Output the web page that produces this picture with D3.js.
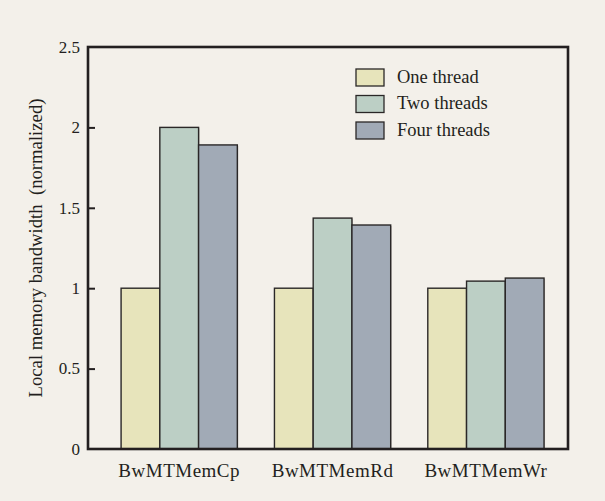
<!DOCTYPE html>
<html>
<head>
<meta charset="utf-8">
<script src="https://cdn.jsdelivr.net/npm/d3@7"></script>
<style>
  html, body { margin: 0; padding: 0; background: #f3f0ea; }
  svg { display: block; }
  text { font-family: "Liberation Serif", "Times New Roman", serif; fill: #231f20; }
</style>
</head>
<body>
<svg id="chart" width="605" height="501"></svg>
<script>
// Benchmarks along the x axis
const categories = ["BwMTMemCp", "BwMTMemRd", "BwMTMemWr"];
// Thread-count series
const seriesNames = ["One thread", "Two threads", "Four threads"];
// Normalized local memory bandwidth per benchmark
const oneThread = [1.0, 1.0, 1.0];
const twoThreads = [2.0, 1.436, 1.044];
const fourThreads = [1.891, 1.393, 1.063];
// Y axis ticks
const yTicks = [0, 0.5, 1, 1.5, 2, 2.5];
const yTickLabels = ["0", "0.5", "1", "1.5", "2", "2.5"];

const seriesValues = [oneThread, twoThreads, fourThreads];
const colors = ["#e7e4bb", "#bccfc5", "#a1aab6"];

const svg = d3.select("#chart");
const margin = { left: 88, top: 47, right: 37, bottom: 52 };
const W = 605, H = 501;
const x0 = margin.left, x1 = W - margin.right;
const yTop = margin.top, yBot = H - margin.bottom;

const x = d3.scaleBand()
  .domain(categories)
  .range([x0, x1])
  .paddingInner(0.242)
  .paddingOuter(0.186)
  .align(0.58);

const xs = d3.scaleBand()
  .domain(seriesNames)
  .range([0, x.bandwidth()])
  .padding(0);

const y = d3.scaleLinear().domain([0, 2.5]).range([yBot, yTop]);

// Bars
const rows = categories.map((c, i) => ({
  cat: c,
  vals: seriesNames.map((s, j) => ({ s, j, v: seriesValues[j][i] }))
}));

const groups = svg.append("g").selectAll("g")
  .data(rows).join("g")
  .attr("transform", d => `translate(${x(d.cat)},0)`);

// soft shadow behind each bar
groups.selectAll("rect.shadow")
  .data(d => d.vals).join("rect")
  .attr("class", "shadow")
  .attr("x", d => xs(d.s) + 1)
  .attr("y", d => y(d.v) + 1)
  .attr("width", xs.bandwidth())
  .attr("height", d => yBot - y(d.v))
  .attr("fill", "#8d8a88")
  .attr("opacity", 0.45);

groups.selectAll("rect.bar")
  .data(d => d.vals).join("rect")
  .attr("class", "bar")
  .attr("x", d => xs(d.s))
  .attr("y", d => y(d.v))
  .attr("width", xs.bandwidth())
  .attr("height", d => yBot - y(d.v))
  .attr("fill", d => colors[d.j])
  .attr("stroke", "#2a2727")
  .attr("stroke-width", 1.4);

// Frame around plot
svg.append("rect")
  .attr("x", x0).attr("y", yTop)
  .attr("width", x1 - x0).attr("height", yBot - yTop)
  .attr("fill", "none")
  .attr("stroke", "#231f20")
  .attr("stroke-width", 2.6);

// Left axis with inward ticks
const yAxis = d3.axisRight(y)
  .tickValues(yTicks)
  .tickFormat(() => "")
  .tickSize(7)
  .tickSizeOuter(0);
const ya = svg.append("g").attr("transform", `translate(${x0},0)`).call(yAxis);
ya.select(".domain").remove();
ya.selectAll("line").attr("stroke", "#231f20").attr("stroke-width", 2);
ya.selectAll(".tick").filter(d => d === 0 || d === 2.5).select("line").remove();

svg.append("g").selectAll("text")
  .data(yTicks).join("text")
  .attr("x", x0 - 8)
  .attr("y", d => y(d))
  .attr("dy", "0.34em")
  .attr("text-anchor", "end")
  .attr("font-size", 17)
  .text((d, i) => yTickLabels[i]);

// X labels
svg.append("g").selectAll("text")
  .data(categories).join("text")
  .attr("x", d => x(d) + x.bandwidth() / 2)
  .attr("y", yBot + 28)
  .attr("text-anchor", "middle")
  .attr("font-size", 19)
  .attr("letter-spacing", 0.5)
  .text(d => d);

// Y axis title
svg.append("text")
  .attr("transform", `translate(42,${(yTop + yBot) / 2}) rotate(-90)`)
  .attr("text-anchor", "middle")
  .attr("font-size", 18.7)
  .attr("xml:space", "preserve")
  .style("white-space", "pre")
  .text("Local memory bandwidth  (normalized)");

// Legend
const legend = svg.append("g").attr("transform", "translate(356,69)");
const li = legend.selectAll("g").data(seriesNames).join("g")
  .attr("transform", (d, i) => `translate(0,${i * 26.5})`);
li.append("rect")
  .attr("width", 28).attr("height", 17)
  .attr("fill", (d, i) => colors[i])
  .attr("stroke", "#2a2727").attr("stroke-width", 1.3);
li.append("text")
  .attr("x", 41).attr("y", 13.5)
  .attr("font-size", 18.5)
  .text(d => d);
</script>
</body>
</html>
